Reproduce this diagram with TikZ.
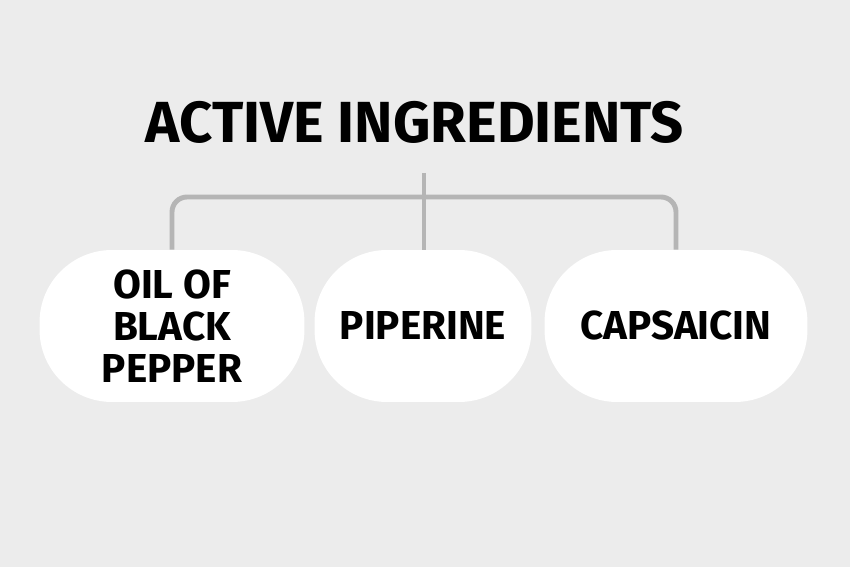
\documentclass[tikz,border=0pt]{standalone}
\usepackage{fontspec}
\setmainfont{Fira Sans}
\usetikzlibrary{positioning}
\definecolor{bgcol}{HTML}{ECECEC}
\definecolor{linecol}{HTML}{B5B5B5}

\begin{document}
\begin{tikzpicture}[x=0.02cm, y=-0.02cm,
    pill/.style={fill=white, rounded corners=1.45cm, minimum height=3.04cm,
        inner sep=0pt, align=center, font=\fontsize{23}{24}\selectfont\bfseries},
    branch/.style={linecol, line width=2.8pt, rounded corners=0.3cm}]
    \fill[bgcol] (0,0) rectangle (850,567);

    \node (title) at (415,122) {\fontsize{33}{36}\selectfont\bfseries ACTIVE INGREDIENTS};

    \node[pill, minimum width=5.3cm] (oil) at (172,326) {OIL OF\\BLACK\\PEPPER};
    \node[pill, minimum width=4.34cm] (pip) at (423,326) {PIPERINE};
    \node[pill, minimum width=5.26cm] (cap) at (676,326) {CAPSAICIN};

    \coordinate (hub) at (424,173);
    \draw[branch] (hub) -- (pip.north -| hub);
    \draw[branch] (oil.north) -- (172,197) -- (676,197) -- (cap.north);
\end{tikzpicture}
\end{document}
